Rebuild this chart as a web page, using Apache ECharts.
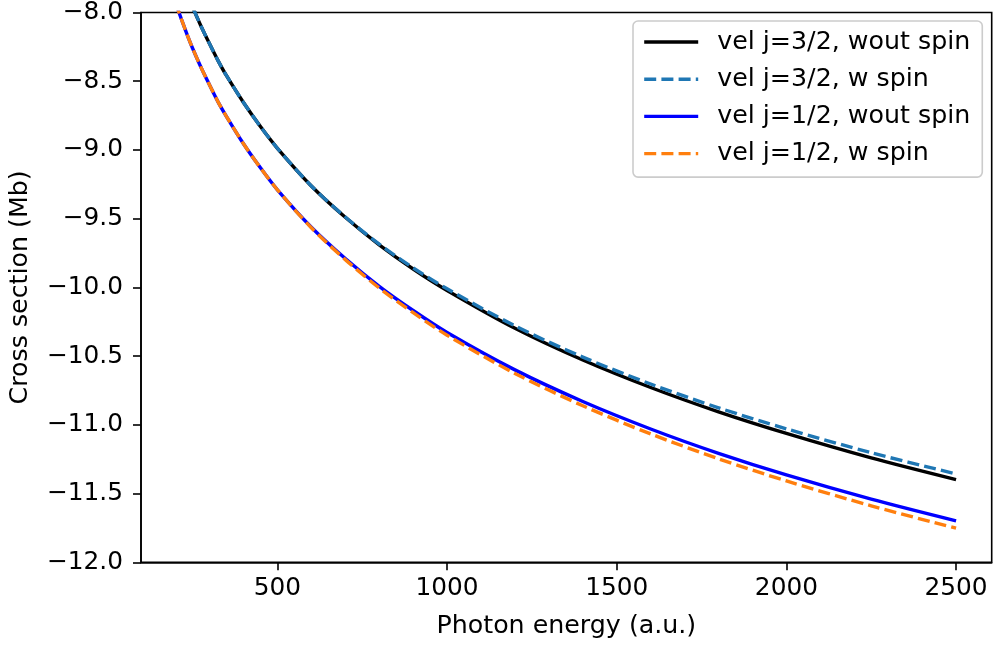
<!DOCTYPE html>
<html>
<head>
<meta charset="utf-8">
<script src="https://cdn.jsdelivr.net/npm/echarts@6/dist/echarts.min.js"></script>
<style>
  html, body { margin: 0; padding: 0; background: #ffffff; }
  #chart { width: 993px; height: 645px; }
</style>
</head>
<body>
<div id="chart"></div>
<script>
// Photon energy (a.u.)
const energy = [200, 210, 220, 235, 250, 275, 300, 325, 350, 400, 450, 500, 600, 700, 800, 900, 1000, 1200, 1400, 1600, 1800, 2000, 2250, 2500];
// Cross section (Mb)
const j32NoSpin = [-7.63, -7.70, -7.77, -7.87, -7.96, -8.10, -8.228, -8.35, -8.46, -8.655, -8.83, -8.988, -9.262, -9.49, -9.69, -9.866, -10.022, -10.297, -10.528, -10.728, -10.905, -11.062, -11.24, -11.398];
const j32Spin   = [-7.63, -7.70, -7.77, -7.87, -7.96, -8.10, -8.228, -8.35, -8.46, -8.655, -8.83, -8.988, -9.262, -9.488, -9.685, -9.858, -10.01, -10.28, -10.507, -10.703, -10.876, -11.029, -11.203, -11.357];
const j12NoSpin = [-7.925, -8.00, -8.068, -8.168, -8.26, -8.40, -8.527, -8.65, -8.757, -8.955, -9.13, -9.29, -9.562, -9.79, -9.992, -10.168, -10.328, -10.60, -10.83, -11.03, -11.207, -11.364, -11.54, -11.698];
const j12Spin   = [-7.925, -8.00, -8.068, -8.168, -8.26, -8.40, -8.527, -8.65, -8.757, -8.955, -9.13, -9.29, -9.566, -9.798, -10.004, -10.184, -10.348, -10.626, -10.861, -11.066, -11.247, -11.408, -11.589, -11.752];

const seriesNames = ['vel j=3/2, wout spin', 'vel j=3/2, w spin', 'vel j=1/2, wout spin', 'vel j=1/2, w spin'];
const xTicks = [500, 1000, 1500, 2000, 2500];

const FONT = 'DejaVu Sans';
const FS_TICK = 24.8;
const FS_TEXT = 25.3;

function zip(xs, ys) { return xs.map((x, i) => [x, ys[i]]); }
function fmtY(v) { return (v < 0 ? '\u2212' : '') + Math.abs(v).toFixed(1); }

const styles = [
  { color: '#000000', type: 'solid' },
  { color: '#1f77b4', type: [12, 5.2] },
  { color: '#0000ff', type: 'solid' },
  { color: '#ff7f0e', type: [12, 5.2] }
];
const values = [j32NoSpin, j32Spin, j12NoSpin, j12Spin];

const chart = echarts.init(document.getElementById('chart'), null, { renderer: 'canvas' });
chart.setOption({
  animation: false,
  backgroundColor: '#ffffff',
  textStyle: { fontFamily: FONT },
  grid: {
    left: 141, right: 1.3, top: 8, bottom: 82.7,
    show: true, borderColor: '#000000', borderWidth: 1.6, backgroundColor: 'transparent',
    containLabel: false
  },
  legend: {
    show: true,
    data: seriesNames,
    orient: 'vertical',
    left: 633,
    top: 21,
    itemWidth: 54,
    itemHeight: 14,
    itemGap: 12.2,
    padding: [8.5, 12, 11, 9.5],
    backgroundColor: 'rgba(255,255,255,0.8)',
    borderColor: '#cccccc',
    borderWidth: 1.6,
    borderRadius: 5,
    selectedMode: false,
    itemStyle: { opacity: 0 },
    lineStyle: { width: 3.4 },
    textStyle: { fontFamily: FONT, fontSize: FS_TEXT, color: '#000000', lineHeight: 25, padding: [0, 0, 0, 14] }
  },
  xAxis: {
    type: 'value',
    min: 98,
    max: 2605,
    name: 'Photon energy (a.u.)',
    nameLocation: 'middle',
    nameGap: 52,
    nameTextStyle: { fontFamily: FONT, fontSize: FS_TEXT, color: '#000000' },
    axisLine: { show: true, onZero: false, lineStyle: { color: '#000000', width: 1.6 } },
    axisTick: { show: true, length: 8, lineStyle: { color: '#000000', width: 1.6 }, customValues: xTicks },
    axisLabel: { show: true, margin: 14, fontFamily: FONT, fontSize: FS_TICK, color: '#000000', customValues: xTicks, formatter: v => String(v) },
    splitLine: { show: false }
  },
  yAxis: {
    type: 'value',
    min: -12,
    max: -8,
    interval: 0.5,
    name: 'Cross section (Mb)',
    nameLocation: 'middle',
    nameGap: 108,
    nameTextStyle: { fontFamily: FONT, fontSize: FS_TEXT, color: '#000000' },
    axisLine: { show: true, onZero: false, lineStyle: { color: '#000000', width: 1.6 } },
    axisTick: { show: true, length: 8, lineStyle: { color: '#000000', width: 1.6 } },
    axisLabel: { show: true, margin: 18, fontFamily: FONT, fontSize: FS_TICK, color: '#000000', formatter: fmtY },
    splitLine: { show: false }
  },
  series: values.map((vals, i) => ({
    name: seriesNames[i],
    type: 'line',
    data: zip(energy, vals),
    showSymbol: false,
    symbol: 'none',
    smooth: 0.3,
    clip: true,
    silent: true,
    lineStyle: { color: styles[i].color, width: 3.4, type: styles[i].type, cap: 'butt', join: 'round' },
    itemStyle: { color: styles[i].color },
    emphasis: { disabled: true }
  }))
});
</script>
</body>
</html>
